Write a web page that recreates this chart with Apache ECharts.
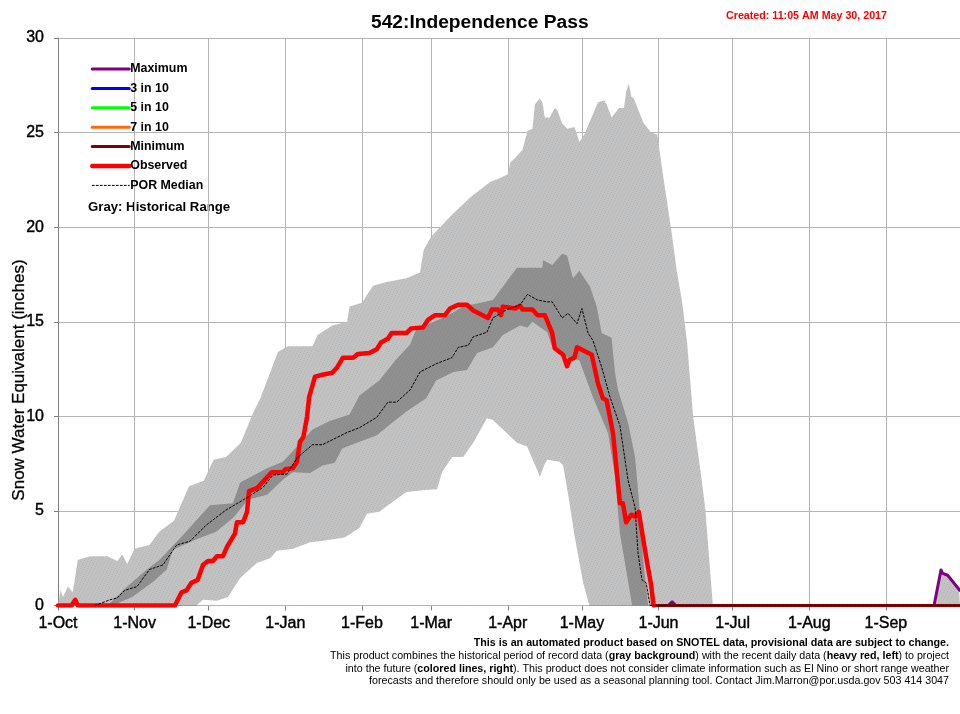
<!DOCTYPE html>
<html><head><meta charset="utf-8">
<style>html,body{margin:0;padding:0;background:#fff}#c{width:960px;height:714px}</style>
<script src="https://cdn.jsdelivr.net/npm/echarts@6/dist/echarts.min.js"></script>
</head><body><div id="c"></div>
<script>
const monthDays = [0,31,61,92,123,151,182,212,243,273,304,335];
const monthLabels = ['1-Oct','1-Nov','1-Dec','1-Jan','1-Feb','1-Mar','1-Apr','1-May','1-Jun','1-Jul','1-Aug','1-Sep'];
const yearDays = 365;
// [day of water year, snow water equivalent in inches]
const rangeHigh = [[0,0],[1,.8],[2,.45],[4,1],[6,.7],[8,2.4],[13,2.6],[20,2.6],[24,2.35],[26,2.7],[28,2.2],[31,3],[37,3.2],[41,3.9],[47,4.5],[53,6.3],[59,6.6],[63,7.7],[68,7.85],[74,8.6],[79,10.2],[82,11],[89,13.4],[93,13.7],[103,13.7],[105,14.3],[111,14.8],[117,15],[118,15.8],[123,16],[127.5,16.9],[133,17.1],[141,17.3],[146.5,17.6],[148,18.8],[151,19.5],[159,20.6],[167,21.6],[175,22.4],[179,22.6],[182,22.8],[183,23.4],[186,23.8],[188,24.1],[190,25.1],[192,25.2],[193,26.5],[195,26.8],[196,26.6],[197,25.8],[199,25.8],[201,26.3],[202,26.2],[204,25.5],[206,25.2],[209,25.3],[211,24.5],[213,24.9],[218.5,26.6],[221,26.7],[222,26.5],[224,25.8],[227,26.3],[229,26.3],[230,27.2],[231,27.6],[232,26.9],[233,26.8],[237,25.5],[240,25],[242.5,24.9],[245,22.6],[248,20],[250.5,17.6],[252.5,16.1],[254.5,14],[257,10],[261,6.1],[262,5],[265,0],[354.5,0],[357.3,1.88],[358,1.7],[360,1.6],[364.6,.85],[365,.8]];
const bandHigh = [[20,0],[28,1],[36,1.9],[41,2.4],[49.4,3.55],[61.5,5.3],[70.8,5.4],[73.7,6.5],[84.6,7.25],[91,7.6],[95,8.15],[103,9.3],[110,9.75],[118,10.1],[122,11.1],[130,11.9],[136.8,13],[142.5,13.8],[145,14.6],[157.4,15.3],[164,15.8],[176,16.15],[185.7,17.85],[196,17.85],[196.3,18.25],[200,18],[204,18.6],[206,18.5],[208.4,17.3],[211,17.7],[215.3,16.85],[218,15.8],[220,14.4],[224,14.15],[225.4,12.3],[226.6,11.4],[230.7,9.65],[233.5,7.85],[234.7,6.1],[235.5,4.9],[236.7,2.55],[238.8,0]];
const bandLow = [[22,0],[30,.45],[38.5,1.25],[44,1.9],[46.5,2.95],[56,3.5],[64,3.9],[71,4.65],[77,5.6],[84.6,5.85],[91,6.65],[95,7.05],[102,7],[107,7.4],[112,7.55],[115,8.3],[121,8.6],[129,9],[135.6,9.7],[141,10.25],[149,10.95],[153,11.9],[160,12.35],[165.5,12.45],[169.6,13.35],[176,13.65],[180,14.3],[187,14.8],[190,14.7],[192,15],[198,14.45],[200,13.65],[203,13.25],[211,12.95],[212,12.6],[216.5,11],[222.6,9.1],[225.4,6.8],[227.4,3.8],[231.5,.65],[232.3,0]];
const rangeLow = [[56,0],[58.7,.3],[64.3,.25],[68.8,.45],[73.7,1.45],[80.5,2.25],[85.8,2.5],[88.6,2.9],[95.1,3],[102,3.35],[106,3.4],[116,3.6],[122,4.1],[125,4.85],[130,4.95],[135.6,5.5],[141,6],[148.5,6.1],[153.4,6.15],[155.4,7.05],[159.5,7.85],[164,7.85],[168,8.6],[173.6,9.9],[176,9.8],[185.7,8.6],[189.8,8.4],[193.8,7.2],[195,6.8],[197,7.5],[198,7.7],[203,7.6],[204.4,7.4],[206.4,5.9],[209,3.7],[212.5,1.2],[215,0]];
const medianLine = [[15,0],[21,.3],[24,.4],[27,.8],[32,1],[37,1.9],[42.5,2.15],[48,3.2],[53.4,3.4],[60,4.25],[68,5.05],[76.5,5.7],[83,6.25],[87,6.9],[92.7,6.95],[96.7,7.8],[103,8.5],[107,8.5],[117,9.15],[122,9.4],[129,9.95],[133.5,10.75],[137,10.75],[142.5,11.4],[146.5,12.35],[153.4,12.8],[159.4,13.1],[162,13.65],[166,13.75],[168,14.2],[173.6,14.45],[176,15.2],[181.7,15.65],[187,15.9],[190,16.45],[194,16.15],[198,16.05],[200,16.05],[204,15.2],[206.4,15.45],[210,14.9],[212,15.7],[214.5,14.4],[216.5,14],[220,12.6],[223.4,11],[227.4,9.5],[230.7,6.6],[233.5,5.2],[234.7,2.8],[236.3,1.35],[238,1.2],[239.6,0],[365,0]];
const observedLine = [[0,0],[5.5,0],[7,.3],[8,0],[11,0],[11.7,.08],[13,0],[47.3,0],[50,.7],[52,.8],[54,1.2],[56.5,1.35],[58.7,2.15],[60.7,2.35],[62.7,2.35],[64.3,2.6],[66.7,2.6],[68.4,3.1],[71.6,3.8],[72.4,4.4],[74.9,4.4],[76.5,4.95],[77.3,6.05],[80.5,6.2],[83,6.55],[86.6,7.05],[91,7.05],[92,7.2],[95,7.25],[96.7,7.6],[97.9,8.65],[99.3,8.9],[100.8,10],[101.6,11],[104,12.1],[107,12.2],[111,12.3],[113,12.6],[115.3,13.1],[119.4,13.1],[121.4,13.3],[126,13.35],[129,13.55],[130.7,13.9],[133.5,14.1],[135,14.4],[141,14.4],[142.9,14.65],[147.7,14.7],[149.7,15.1],[152.6,15.35],[156.6,15.35],[158.6,15.7],[161.9,15.9],[165.5,15.9],[168,15.6],[174,15.2],[175.6,15.65],[178,15.65],[179.3,15.35],[180,15.8],[185,15.7],[187,15.85],[188,15.65],[192,15.65],[194,15.35],[197,15.35],[200,14.4],[201,13.6],[204.4,13.25],[206,12.65],[207,13],[209,13.1],[210,13.65],[210.5,13.75],[216,13.25],[218.5,11.75],[220.5,10.95],[222,10.85],[224.6,9.1],[227.4,5.4],[228.6,5.4],[229.9,4.4],[232,4.8],[233.5,4.7],[235,4.95],[238.4,2.25],[240,1.1],[241,0]];
const maximumLine = [[241,0],[247,0],[248.5,.2],[250,0],[354.5,0],[357.3,1.88],[358,1.7],[360,1.6],[364.6,.85],[365,.8]];
const threeIn10Line = [[241,0],[365,0]];
const fiveIn10Line = [[241,0],[365,0]];
const sevenIn10Line = [[241,0],[365,0]];
const minimumLine = [[241,0],[365,0]];

const FONT = '"Liberation Sans", Arial, sans-serif';

function stipple(base, dot) {
  const c = document.createElement('canvas');
  c.width = 7; c.height = 7;
  const g = c.getContext('2d');
  g.fillStyle = base; g.fillRect(0, 0, 7, 7);
  g.fillStyle = dot;
  [[0,0],[3,1],[6,2],[2,3],[5,4],[1,5],[4,6]].forEach(p => g.fillRect(p[0], p[1], 1, 1));
  return { image: c, repeat: 'repeat' };
}
function area(name, data, fill) {
  return { name, type: 'line', data, symbol: 'none', lineStyle: { width: 0, opacity: 0 }, areaStyle: { color: fill, opacity: 1 }, silent: true };
}
function line(name, data, color, width, type) {
  return { name, type: 'line', data, symbol: 'none', lineStyle: { color, width, type: type || 'solid', cap: 'round', join: 'round' }, itemStyle: { color } };
}

const chart = echarts.init(document.getElementById('c'), null, { renderer: 'canvas' });
chart.setOption({
  animation: false,
  backgroundColor: '#ffffff',
  grid: { left: 58, right: 0, top: 38, bottom: 108.5, containLabel: false },
  xAxis: {
    type: 'value', min: 0, max: yearDays,
    axisLine: { lineStyle: { color: '#808080', width: 1 } },
    axisTick: { show: true, length: 5, customValues: monthDays, lineStyle: { color: '#808080' } },
    axisLabel: { customValues: monthDays, margin: 10, hideOverlap: false, showMinLabel: true, showMaxLabel: true,
      formatter: v => monthLabels[monthDays.indexOf(v)] || '',
      color: '#000', fontFamily: FONT, fontSize: 16, textBorderColor: '#000', textBorderWidth: 0.4 },
    splitLine: { show: true, lineStyle: { color: '#b4b4b4', width: 1 } }
  },
  yAxis: {
    type: 'value', min: 0, max: 30, interval: 5,
    axisLine: { show: true, lineStyle: { color: '#808080', width: 1 } },
    axisTick: { show: true, length: 4, lineStyle: { color: '#808080' } },
    axisLabel: { margin: 14, color: '#000', fontFamily: FONT, fontSize: 16, textBorderColor: '#000', textBorderWidth: 0.4 },
    splitLine: { show: true, lineStyle: { color: '#b4b4b4', width: 1 } }
  },
  legend: {
    orient: 'vertical', left: 85, top: 58, itemWidth: 37, itemHeight: 14, itemGap: 7.4,
    itemStyle: { opacity: 0 },
    lineStyle: { width: 'inherit' },
    data: ['Maximum','3 in 10','5 in 10','7 in 10','Minimum','Observed','POR Median'],
    textStyle: { color: '#000', fontFamily: FONT, fontSize: 12.4, fontWeight: 'bold', padding: [0,0,0,-4] },
    selectedMode: false
  },
  series: [
    area('Historical range high', rangeHigh, stipple('#c2c2c2', '#b4b7b9')),
    area('Historical band high', bandHigh, stipple('#909090', '#86888a')),
    area('Historical band low', bandLow, stipple('#c2c2c2', '#b4b7b9')),
    area('Historical range low', rangeLow, '#ffffff'),
    line('Maximum', maximumLine, '#800080', 3),
    line('3 in 10', threeIn10Line, '#0000ff', 3),
    line('5 in 10', fiveIn10Line, '#00ff00', 3),
    line('7 in 10', sevenIn10Line, '#ff6611', 3),
    line('Minimum', minimumLine, '#800000', 3),
    line('Observed', observedLine, '#ff0000', 4.5),
    line('POR Median', medianLine, '#000000', 1, [2, 2])
  ],
  graphic: [
    { type: 'text', left: 371, top: 13, style: { text: '542:Independence Pass', fill: '#000', font: 'bold 19.2px ' + FONT } },
    { type: 'text', left: 726, top: 11, style: { text: 'Created: 11:05 AM May 30, 2017', fill: '#ff0000', font: 'bold 10.7px ' + FONT } },
    { type: 'text', left: 88, top: 201, style: { text: 'Gray: Historical Range', fill: '#000', font: 'bold 13.2px ' + FONT } },
    { type: 'text', x: 19.5, y: 380, rotation: Math.PI / 2, style: { text: 'Snow Water Equivalent (inches)', fill: '#000', stroke: '#000', lineWidth: 0.3, font: '17px ' + FONT, align: 'center', verticalAlign: 'middle' } },
    { type: 'text', x: 949, y: 638, style: { text: 'This is an automated product based on SNOTEL data, provisional data are subject to change.', fill: '#000', font: 'bold 10.73px ' + FONT, align: 'right' } },
    { type: 'text', x: 949, y: 651, style: { text: '{n|This product combines the historical period of record data (}{b|gray background}{n|) with the recent daily data (}{b|heavy red, left}{n|) to project}', align: 'right', rich: { n: { fill: '#000', font: '10.7px ' + FONT }, b: { fill: '#000', font: 'bold 10.7px ' + FONT } } } },
    { type: 'text', x: 949, y: 664, style: { text: '{n|into the future (}{b|colored lines, right}{n|). This product does not consider climate information such as El Nino or short range weather}', align: 'right', rich: { n: { fill: '#000', font: '10.7px ' + FONT }, b: { fill: '#000', font: 'bold 10.7px ' + FONT } } } },
    { type: 'text', x: 949, y: 676, style: { text: 'forecasts and therefore should only be used as a seasonal planning tool. Contact Jim.Marron@por.usda.gov 503 414 3047', fill: '#000', font: '10.7px ' + FONT, align: 'right' } }
  ]
});
</script></body></html>
